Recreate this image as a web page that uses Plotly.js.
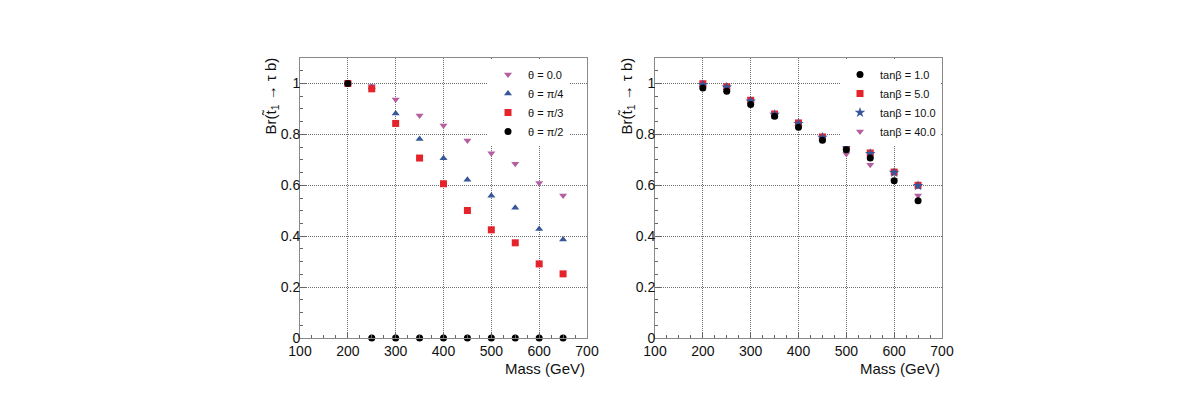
<!DOCTYPE html>
<html>
<head>
<meta charset="utf-8">
<script src="https://cdn.plot.ly/plotly-3.0.1.min.js"></script>
<style>html,body{margin:0;padding:0;background:#fff;}#chart{width:1190px;height:402px;}</style>
</head>
<body>
<div id="chart"></div>
<script>
// ---- data ----
const mass = [200, 250, 300, 350, 400, 450, 500, 550, 600, 650];

// left panel: mixing angle theta
const thetaLabels = ['\u03b8 = 0.0', '\u03b8 = \u03c0/4', '\u03b8 = \u03c0/3', '\u03b8 = \u03c0/2'];
const brTheta0   = [1.0, 0.99, 0.937, 0.874, 0.835, 0.776, 0.726, 0.685, 0.609, 0.560];
const brThetaPi4 = [1.0, 0.985, 0.882, 0.782, 0.706, 0.622, 0.559, 0.512, 0.428, 0.387];
const brThetaPi3 = [1.0, 0.979, 0.843, 0.707, 0.606, 0.501, 0.425, 0.374, 0.291, 0.252];
const brThetaPi2 = [1.0, 0.0, 0.0, 0.0, 0.0, 0.0, 0.0, 0.0, 0.0, 0.0];

// right panel: tan beta
const tanbLabels = ['tan\u03b2 = 1.0', 'tan\u03b2 = 5.0', 'tan\u03b2 = 10.0', 'tan\u03b2 = 40.0'];
const brTanb1  = [0.982, 0.969, 0.917, 0.871, 0.828, 0.777, 0.740, 0.707, 0.618, 0.539];
const brTanb5  = [0.999, 0.987, 0.934, 0.880, 0.845, 0.790, 0.753, 0.727, 0.652, 0.600];
const brTanb10 = [0.995, 0.985, 0.930, 0.878, 0.842, 0.788, 0.750, 0.724, 0.650, 0.598];
const brTanb40 = [0.985, 0.970, 0.920, 0.872, 0.830, 0.778, 0.723, 0.681, 0.620, 0.560];

const xTickVals = [100, 200, 300, 400, 500, 600, 700];
const yTickVals = [0, 0.2, 0.4, 0.6, 0.8, 1.0];

// ---- styles ----
const PINK = '#b45f9f', BLUE = '#37579a', RED = '#e4232b', BLACK = '#000000';
const FONT = 'Liberation Sans, Arial, Helvetica, sans-serif';

function tr(x, y, name, color, symbol, xa, ya, leg, rank) {
  return {x: x, y: y, name: name, type: 'scatter', mode: 'markers',
    xaxis: xa, yaxis: ya, legend: leg, legendrank: rank, cliponaxis: false,
    marker: {color: color, symbol: symbol, size: symbol === 'star' ? 8 : 7, line: {width: 0}}};
}

const data = [
  tr(mass, brTheta0,   thetaLabels[0], PINK,  'triangle-down', 'x', 'y', 'legend', 1),
  tr(mass, brThetaPi4, thetaLabels[1], BLUE,  'triangle-up',   'x', 'y', 'legend', 2),
  tr(mass, brThetaPi3, thetaLabels[2], RED,   'square',        'x', 'y', 'legend', 3),
  tr(mass, brThetaPi2, thetaLabels[3], BLACK, 'circle',        'x', 'y', 'legend', 4),
  tr(mass, brTanb5,  tanbLabels[1], RED,   'square',        'x2', 'y2', 'legend2', 2),
  tr(mass, brTanb10, tanbLabels[2], BLUE,  'star',          'x2', 'y2', 'legend2', 3),
  tr(mass, brTanb40, tanbLabels[3], PINK,  'triangle-down', 'x2', 'y2', 'legend2', 4),
  tr(mass, brTanb1,  tanbLabels[0], BLACK, 'circle',        'x2', 'y2', 'legend2', 1)
];

const GRID = '#6e6e6e';
function xax(domain, anchor) {
  return {domain: domain, anchor: anchor, range: [100, 700], tickvals: xTickVals,
    ticks: 'inside', ticklen: 6, tickcolor: '#666', tickwidth: 1,
    minor: {dtick: 25, tick0: 100, ticks: 'inside', ticklen: 3, tickcolor: '#666', showgrid: false},
    showgrid: true, gridcolor: GRID, griddash: '1px,1px', gridwidth: 1,
    showline: true, mirror: true, linecolor: '#8a8a8a', linewidth: 1, zeroline: false,
    tickfont: {family: FONT, size: 14, color: '#111'}, fixedrange: true};
}
function yax(anchor) {
  return {domain: [0.1592, 0.8557], anchor: anchor, range: [0, 1.1], tickvals: yTickVals,
    ticks: 'inside', ticklen: 6, tickcolor: '#666', tickwidth: 1,
    minor: {dtick: 0.05, tick0: 0, ticks: 'inside', ticklen: 3, tickcolor: '#666', showgrid: false},
    showgrid: true, gridcolor: GRID, griddash: '1px,1px', gridwidth: 1,
    showline: true, mirror: true, linecolor: '#8a8a8a', linewidth: 1, zeroline: false,
    ticklabelstandoff: -4,
    tickfont: {family: FONT, size: 14, color: '#111'}, fixedrange: true};
}

function legendCfg(x) {
  return {x: x, y: 1 - 60 / 402, xref: 'paper', yref: 'paper', xanchor: 'left', yanchor: 'top',
    bgcolor: '#ffffff', borderwidth: 0, font: {family: FONT, size: 11, color: '#111'},
    traceorder: 'normal', itemwidth: 30, tracegroupgap: 0};
}

const yTitle = 'Br(t\u0303<sub>1</sub> \u2192 \u03c4 b)';
const layout = {
  width: 1190, height: 402,
  margin: {l: 0, r: 0, t: 0, b: 0},
  paper_bgcolor: '#ffffff', plot_bgcolor: '#ffffff',
  showlegend: true,
  xaxis: xax([300 / 1190, 587 / 1190], 'y'),
  yaxis: yax('x'),
  xaxis2: xax([655 / 1190, 942 / 1190], 'y2'),
  yaxis2: yax('x2'),
  legend: legendCfg(488 / 1190),
  legend2: legendCfg(840 / 1190),
  annotations: [
    {text: 'Mass (GeV)', xref: 'x domain', yref: 'paper', x: 1, y: 1 - 368 / 402,
     xanchor: 'right', yanchor: 'middle', showarrow: false, font: {family: FONT, size: 15, color: '#111'}},
    {text: 'Mass (GeV)', xref: 'x2 domain', yref: 'paper', x: 1, y: 1 - 368 / 402,
     xanchor: 'right', yanchor: 'middle', showarrow: false, font: {family: FONT, size: 15, color: '#111'}},
    {text: yTitle, xref: 'paper', yref: 'paper', x: 271 / 1190, y: 1 - 56 / 402, textangle: -90,
     xanchor: 'center', yanchor: 'top', showarrow: false, font: {family: FONT, size: 15, color: '#111'}},
    {text: yTitle, xref: 'paper', yref: 'paper', x: 627 / 1190, y: 1 - 56 / 402, textangle: -90,
     xanchor: 'center', yanchor: 'top', showarrow: false, font: {family: FONT, size: 15, color: '#111'}}
  ]
};

Plotly.newPlot('chart', data, layout, {staticPlot: true, displayModeBar: false});
</script>
</body>
</html>
